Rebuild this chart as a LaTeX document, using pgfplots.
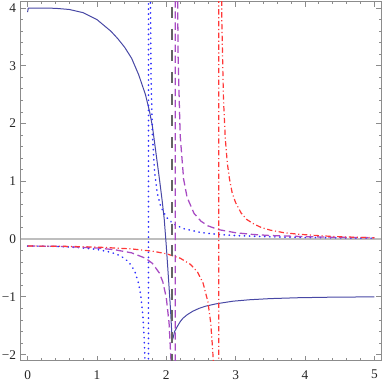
\documentclass[border=0pt]{standalone}
\usepackage{fontspec}
\setmainfont{Liberation Serif}
\usepackage{pgfplots}
\pgfplotsset{compat=1.18}

\definecolor{solidblue}{RGB}{72,72,165}
\definecolor{dotblue}{RGB}{45,45,255}
\definecolor{dashpurple}{RGB}{168,75,195}
\definecolor{ddred}{RGB}{255,55,55}
\definecolor{vgray}{RGB}{100,100,100}
\definecolor{zerogray}{RGB}{190,190,190}
\definecolor{framegray}{RGB}{140,140,140}

\begin{document}
\begin{tikzpicture}
\begin{axis}[
    at={(0,0)}, anchor=south west,
    scale only axis, width=270.45pt, height=269.5pt,
    xmin=-0.1, xmax=5.1, ymin=-2.11, ymax=4.11,
    xtick={0,1,2,3,4,5}, xticklabels={0,1,2,3,4,5},
    ytick={-2,-1,0,1,2,3,4}, yticklabels={−2,−1,0,1,2,3,4},
    minor x tick num=4, minor y tick num=4,
    tick align=inside, tick pos=both,
    xticklabel pos=lower, yticklabel pos=left,
    major tick length=3.75pt, minor tick length=2pt,
    tick style={framegray, line width=0.6pt},
    axis line style={framegray, line width=0.75pt},
    tick label style={font=\fontsize{10}{12}\selectfont, text=black!85},
    xticklabel style={yshift=-3.4pt},
]
% zero line
\addplot[zerogray, line width=1.1pt] coordinates {(-0.1,0) (5.1,0)};

% solid curve
\addplot[solidblue, line width=0.75pt] coordinates {
(0,3.93) (0.01,4.0) (0.2,4.0) (0.4,3.995) (0.6,3.975) (0.8,3.92) (1.0,3.8)
(1.2,3.6) (1.3,3.47) (1.4,3.32) (1.5,3.13) (1.6,2.85) (1.7,2.5) (1.76,2.2)
(1.8,1.95) (1.85,1.5) (1.9,1.05) (1.94,0.67) (1.97,0.35) (2.0,-0.12)
(2.03,-0.65) (2.06,-1.2) (2.085,-1.76) (2.10,-1.70) (2.12,-1.60) (2.165,-1.50)
(2.2,-1.43) (2.24,-1.37) (2.3,-1.31) (2.38,-1.25) (2.47,-1.20) (2.57,-1.16)
(2.72,-1.12) (2.96,-1.075) (3.2,-1.05) (3.5,-1.03) (3.9,-1.015) (4.4,-1.005)
(5.0,-1.0)
};

% dotted curve
\addplot[dotblue, line width=1.25pt, line cap=round, dash pattern=on 0.2pt off 3.6pt] coordinates {
(0,-0.120) (0.25,-0.1225) (0.5,-0.1308) (0.75,-0.1473) (1.0,-0.1789) (1.2,-0.2282)
(1.3,-0.2705) (1.35,-0.300) (1.4,-0.3382) (1.45,-0.390) (1.5,-0.4627) (1.55,-0.5737)
(1.6,-0.7628) (1.63,-0.9567) (1.66,-1.291) (1.68,-1.691) (1.69,-2.004) (1.70,-2.463)
(1.741,-10) (1.745,10) (1.76,6.12) (1.78,2.796) (1.8,1.805) (1.83,1.173)
(1.87,0.7945) (1.92,0.5623) (2.0,0.379) (2.1,0.2657) (2.25,0.1801) (2.5,0.1135)
(2.75,0.0806) (3.0,0.0612) (3.5,0.0396) (4.0,0.0281) (4.5,0.0212) (5.0,0.0166)
};

% dashed curve
\addplot[dashpurple, line width=0.95pt, dash pattern=on 5.5pt off 2.8pt] coordinates {
(0,-0.120) (0.5,-0.127) (1.0,-0.154) (1.25,-0.183) (1.5,-0.238) (1.7,-0.331)
(1.8,-0.420) (1.9,-0.587) (1.95,-0.741) (2.0,-1.014) (2.04,-1.450) (2.07,-2.159)
(2.09,-3.22) (2.128,-10) (2.132,10) (2.15,6.37) (2.17,3.17) (2.2,1.797)
(2.25,1.036) (2.3,0.723) (2.4,0.445) (2.5,0.31) (2.6,0.23) (2.75,0.165)
(3.0,0.11) (3.25,0.08) (3.5,0.062) (4.0,0.043) (4.5,0.031) (5.0,0.024)
};

% dot-dashed curve
\addplot[ddred, line width=0.9pt, dash pattern=on 4pt off 2pt on 0.8pt off 2pt] coordinates {
(0,-0.120) (0.5,-0.124) (1.0,-0.138) (1.5,-0.170) (1.8,-0.209) (2.0,-0.253)
(2.2,-0.330) (2.35,-0.439) (2.45,-0.571) (2.53,-0.760) (2.6,-1.084) (2.64,-1.444)
(2.67,-1.932) (2.69,-2.5) (2.755,-10) (2.759,10) (2.78,7.16) (2.80,3.82)
(2.824,2.44) (2.85,1.75) (2.88,1.315) (2.91,1.05) (2.95,0.8) (3.0,0.63)
(3.08,0.45) (3.16,0.34) (3.25,0.27) (3.37,0.2) (3.5,0.155) (3.7,0.11)
(3.9,0.085) (4.15,0.063) (4.4,0.046) (4.7,0.033) (5.0,0.024)
};

% vertical marker
\addplot[vgray, line width=1.5pt, dash pattern=on 8.25pt off 8pt, dash phase=12.25pt] coordinates {(2.083,4.11) (2.083,-2.11)};
\end{axis}
\pgfresetboundingbox
\useasboundingbox (-15.5pt,-15.75pt) rectangle (271pt,270.75pt);
\end{tikzpicture}
\end{document}
